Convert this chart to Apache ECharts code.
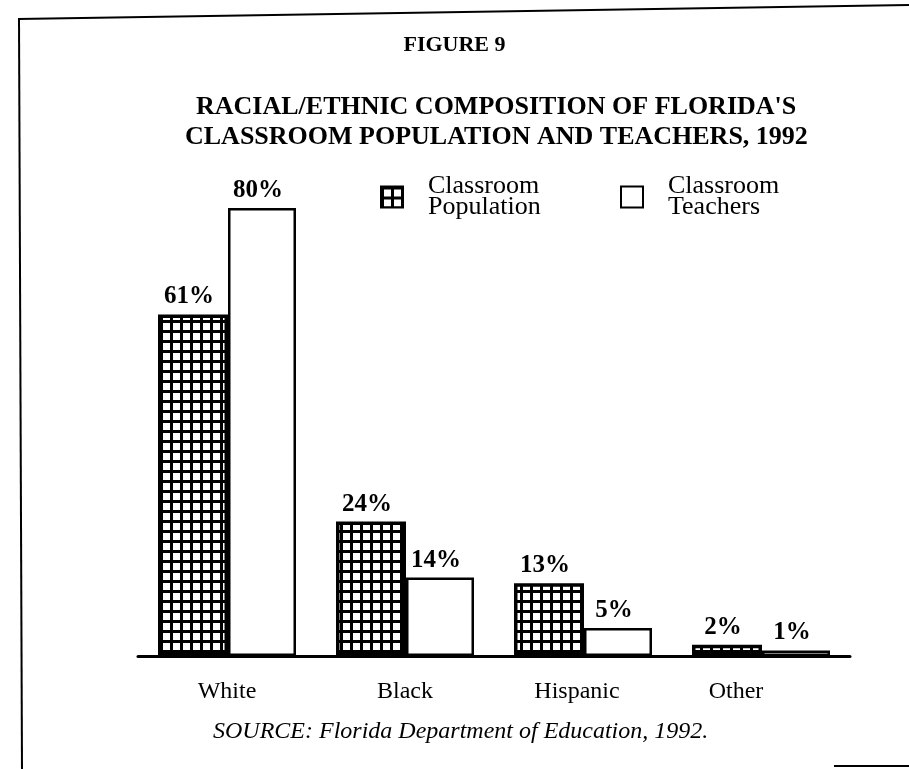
<!DOCTYPE html>
<html>
<head>
<meta charset="utf-8">
<title>Figure 9</title>
<script src="https://cdn.jsdelivr.net/npm/echarts@6/dist/echarts.min.js"></script>
<style>
  html, body { margin: 0; padding: 0; background: #fff; }
  #chart { width: 909px; height: 769px; }
</style>
</head>
<body>
<div id="chart"></div>
<script>
// Racial/ethnic shares (%) of Florida classrooms, 1992
const categories = ['White', 'Black', 'Hispanic', 'Other'];
const populationShare = [61, 24, 13, 2];
const teacherShare = [80, 14, 5, 1];
const seriesNames = ['Classroom\nPopulation', 'Classroom\nTeachers'];
const titleLines = ["RACIAL/ETHNIC COMPOSITION OF FLORIDA'S", 'CLASSROOM POPULATION AND TEACHERS, 1992'];

const SERIF = '"Liberation Serif", "Times New Roman", serif';

// cross-hatched fill used for the population bars
function gridPattern() {
  const c = document.createElement('canvas');
  c.width = 10; c.height = 10;
  const g = c.getContext('2d');
  g.fillStyle = '#fff';
  g.fillRect(0, 0, 10, 10);
  g.fillStyle = '#000';
  g.fillRect(0, 0, 10, 3);
  g.fillRect(0, 0, 3, 10);
  return { image: c, repeat: 'repeat' };
}

const chart = echarts.init(document.getElementById('chart'), null, { renderer: 'canvas' });

const barLabel = {
  show: true,
  position: 'top',
  distance: 5,
  offset: [-4, 0],
  formatter: '{c}%',
  fontFamily: SERIF,
  fontWeight: 'bold',
  fontSize: 25,
  color: '#000'
};

const headStyle = { fontFamily: SERIF, fontWeight: 'bold', fontSize: 26, color: '#000' };
const legendText = { fontFamily: SERIF, fontSize: 26, lineHeight: 21, color: '#000', padding: [0, 0, 10, 20] };

// label shifts (px, leftwards) for the category names
const labelShift = { Hispanic: 12, Other: 50 };

chart.setOption({
  backgroundColor: '#fff',
  animation: false,
  title: [
    {
      text: 'FIGURE 9',
      left: 'center',
      top: 29,
      textStyle: { fontFamily: SERIF, fontWeight: 'bold', fontSize: 22, color: '#000' }
    },
    { text: titleLines[0], left: 191, top: 89, textStyle: headStyle },
    { text: titleLines[1], left: 180, top: 119, textStyle: headStyle },
    {
      text: 'SOURCE: Florida Department of Education, 1992.',
      left: 208,
      top: 715,
      textStyle: { fontFamily: SERIF, fontStyle: 'italic', fontWeight: 'normal', fontSize: 24, color: '#000' }
    }
  ],
  legend: [
    {
      data: [seriesNames[0]],
      left: 375,
      top: 166,
      itemWidth: 22,
      itemHeight: 21,
      icon: 'rect',
      selectedMode: false,
      textStyle: legendText
    },
    {
      data: [seriesNames[1]],
      left: 615,
      top: 166,
      itemWidth: 22,
      itemHeight: 21,
      icon: 'rect',
      selectedMode: false,
      textStyle: legendText
    }
  ],
  grid: { left: 138, right: 59, top: 208, bottom: 113, containLabel: false },
  xAxis: {
    type: 'category',
    data: categories,
    axisLine: { show: true, lineStyle: { color: '#000', width: 3 } },
    axisTick: { show: false },
    axisLabel: {
      interval: 0,
      hideOverlap: false,
      fontFamily: SERIF,
      fontSize: 24,
      color: '#000',
      margin: 24,
      formatter: function (v) {
        return labelShift[v] ? '{s' + labelShift[v] + '|' + v + '}' : v;
      },
      rich: {
        s12: { fontFamily: SERIF, fontSize: 24, color: '#000', padding: [0, 12, 0, 0] },
        s50: { fontFamily: SERIF, fontSize: 24, color: '#000', padding: [0, 50, 0, 0] }
      }
    }
  },
  yAxis: {
    type: 'value',
    min: 0,
    max: 80,
    show: false,
    splitLine: { show: false }
  },
  series: [
    {
      name: seriesNames[0],
      type: 'bar',
      data: populationShare,
      barWidth: 70,
      barGap: '0%',
      itemStyle: { color: gridPattern(), borderColor: '#000', borderWidth: 3.5 },
      label: barLabel
    },
    {
      name: seriesNames[1],
      type: 'bar',
      data: teacherShare,
      barWidth: 68,
      barGap: '0%',
      itemStyle: { color: '#fff', borderColor: '#000', borderWidth: 2.5 },
      label: barLabel
    }
  ],
  graphic: [
    { type: 'line', shape: { x1: 18, y1: 19, x2: 909, y2: 5 }, style: { stroke: '#000', lineWidth: 2 } },
    { type: 'line', shape: { x1: 19, y1: 19, x2: 22, y2: 769 }, style: { stroke: '#000', lineWidth: 2 } },
    { type: 'line', shape: { x1: 834, y1: 766, x2: 909, y2: 766 }, style: { stroke: '#000', lineWidth: 2 } }
  ]
});
</script>
</body>
</html>
